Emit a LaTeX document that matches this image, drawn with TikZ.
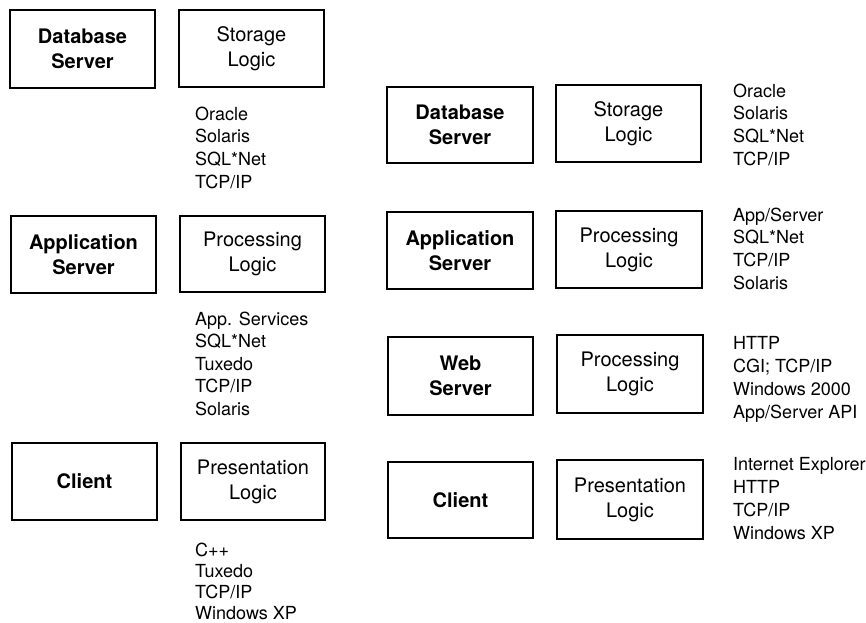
\documentclass[tikz,border=0pt]{standalone}
\usepackage{fontspec}
\setmainfont{TeX Gyre Heros}
\newcommand\mylist[2]{\vtop{\baselineskip=#1pt\lineskiplimit=-20pt\lineskip=0pt\halign{##\hfil\cr#2\crcr}}}
\begin{document}
\begin{tikzpicture}[x=1pt,y=-1pt,
  tier/.style={draw, line width=1.5pt, inner sep=0pt, align=center,
    font=\fontsize{20}{25}\selectfont\bfseries},
  logic/.style={draw, line width=1.5pt, inner sep=0pt, align=center,
    font=\fontsize{20}{25}\selectfont},
  techlist/.style={anchor=base west, inner sep=0pt, font=\fontsize{18}{23}\selectfont}]
\useasboundingbox (0,0) rectangle (866,622);
% ---- left column ----
\node[tier, minimum width=145pt, minimum height=78pt] (ldb) at (82.5,49) {Database\\Server};
\node[logic, minimum width=145pt, minimum height=77pt] (lsto) at (251.5,48.5) {Storage\\Logic};
\node[techlist] (lstolist) at (195,120) {\mylist{22.8}{Oracle\cr Solaris\cr SQL*Net\cr TCP/IP}};
\node[tier, minimum width=145pt, minimum height=77pt] (lapp) at (83.5,254.5) {Application\\Server};
\node[logic, minimum width=145pt, minimum height=76pt] (lproc) at (252.5,254) {Processing\\Logic};
\node[techlist] (lproclist) at (195,325) {\mylist{22.5}{App. Services\cr SQL*Net\cr Tuxedo\cr TCP/IP\cr Solaris}};
\node[tier, minimum width=145pt, minimum height=77pt] (lcli) at (84.5,481.5) {Client};
\node[logic, minimum width=144pt, minimum height=77pt] (lpres) at (253,481.5) {Presentation\\Logic};
\node[techlist] (lpreslist) at (195,556) {\mylist{21}{C++\cr Tuxedo\cr TCP/IP\cr Windows XP}};
% ---- right column ----
\node[tier, minimum width=146pt, minimum height=76pt] (rdb) at (460,125) {Database\\Server};
\node[logic, minimum width=145pt, minimum height=77pt] (rsto) at (628.5,123.5) {Storage\\Logic};
\node[techlist] (rstolist) at (733,97) {\mylist{22.7}{Oracle\cr Solaris\cr SQL*Net\cr TCP/IP}};
\node[tier, minimum width=146pt, minimum height=77pt] (rapp) at (460,250.5) {Application\\Server};
\node[logic, minimum width=146pt, minimum height=77pt] (rproc) at (629,249.5) {Processing\\Logic};
\node[techlist] (rproclist) at (733,221) {\mylist{22.7}{App/Server\cr SQL*Net\cr TCP/IP\cr Solaris}};
\node[tier, minimum width=145pt, minimum height=78pt] (rweb) at (460.5,376) {Web\\Server};
\node[logic, minimum width=146pt, minimum height=78pt] (rwproc) at (630,374) {Processing\\Logic};
\node[techlist] (rwproclist) at (733,349) {\mylist{23}{HTTP\cr CGI; TCP/IP\cr Windows 2000\cr App/Server API}};
\node[tier, minimum width=145pt, minimum height=76pt] (rcli) at (460.5,500) {Client};
\node[logic, minimum width=146pt, minimum height=79pt] (rpres) at (630,499.5) {Presentation\\Logic};
\node[techlist] (rpreslist) at (733,470) {\mylist{23}{Internet Explorer\cr HTTP\cr TCP/IP\cr Windows XP}};
\end{tikzpicture}
\end{document}
